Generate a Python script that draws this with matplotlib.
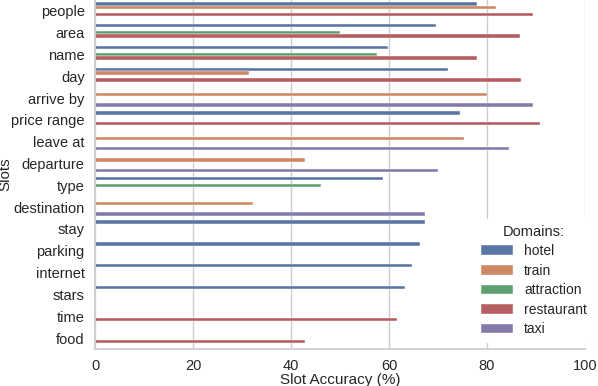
import matplotlib
matplotlib.use('Agg')
import matplotlib.pyplot as plt
import numpy as np
import pandas as pd
import seaborn as sns

# Slot accuracy per domain
slots = ['people', 'area', 'name', 'day', 'arrive by', 'price range', 'leave at',
         'departure', 'type', 'destination', 'stay', 'parking', 'internet',
         'stars', 'time', 'food']
domains = ['hotel', 'train', 'attraction', 'restaurant', 'taxi']

hotel = {'people': 77.9, 'area': 69.7, 'name': 59.9, 'day': 72.1, 'price range': 74.6,
         'type': 58.7, 'stay': 67.4, 'parking': 66.4, 'internet': 64.8, 'stars': 63.2}
train = {'people': 81.9, 'day': 31.4, 'arrive by': 80.1, 'leave at': 75.4,
         'departure': 42.8, 'destination': 32.2}
attraction = {'area': 50.0, 'name': 57.5, 'type': 46.1}
restaurant = {'people': 89.4, 'area': 86.8, 'name': 77.9, 'day': 87.0,
              'price range': 90.9, 'time': 61.6, 'food': 42.8}
taxi = {'arrive by': 89.4, 'leave at': 84.5, 'departure': 70.1, 'destination': 67.4}

rows = []
for dom, vals in zip(domains, [hotel, train, attraction, restaurant, taxi]):
    for s, v in vals.items():
        rows.append({'Slots': s, 'Domains:': dom, 'acc': v})
df = pd.DataFrame(rows)

sns.set_theme(style='whitegrid')
plt.rcParams['font.family'] = ['Liberation Sans', 'DejaVu Sans']

fig, ax = plt.subplots(figsize=(5.98, 3.86), dpi=100)
sns.barplot(data=df, y='Slots', x='acc', hue='Domains:', order=slots,
            hue_order=domains, orient='h', ax=ax, dodge=True,
            edgecolor='white', linewidth=0.3, saturation=0.75)

ax.set_xlim(0, 100)
ax.set_xlabel('Slot Accuracy (%)', fontsize=11, labelpad=0)
ax.set_ylabel('Slots', fontsize=11)
ax.yaxis.set_label_coords(-0.168, 0.5)
ax.tick_params(axis='both', labelsize=10.5, pad=1.5)
ax.xaxis.grid(True)
ax.yaxis.grid(False)
sns.despine(ax=ax, top=True, right=True)

leg = ax.legend(title='Domains:', loc='lower right', bbox_to_anchor=(1.03, 0.0),
                fontsize=10, title_fontsize=10.5, frameon=True, framealpha=1,
                edgecolor='white', handlelength=2.3, labelspacing=0.4)

plt.subplots_adjust(left=0.159, right=0.978, top=1.0, bottom=0.096)
plt.savefig('out.png', dpi=100)
